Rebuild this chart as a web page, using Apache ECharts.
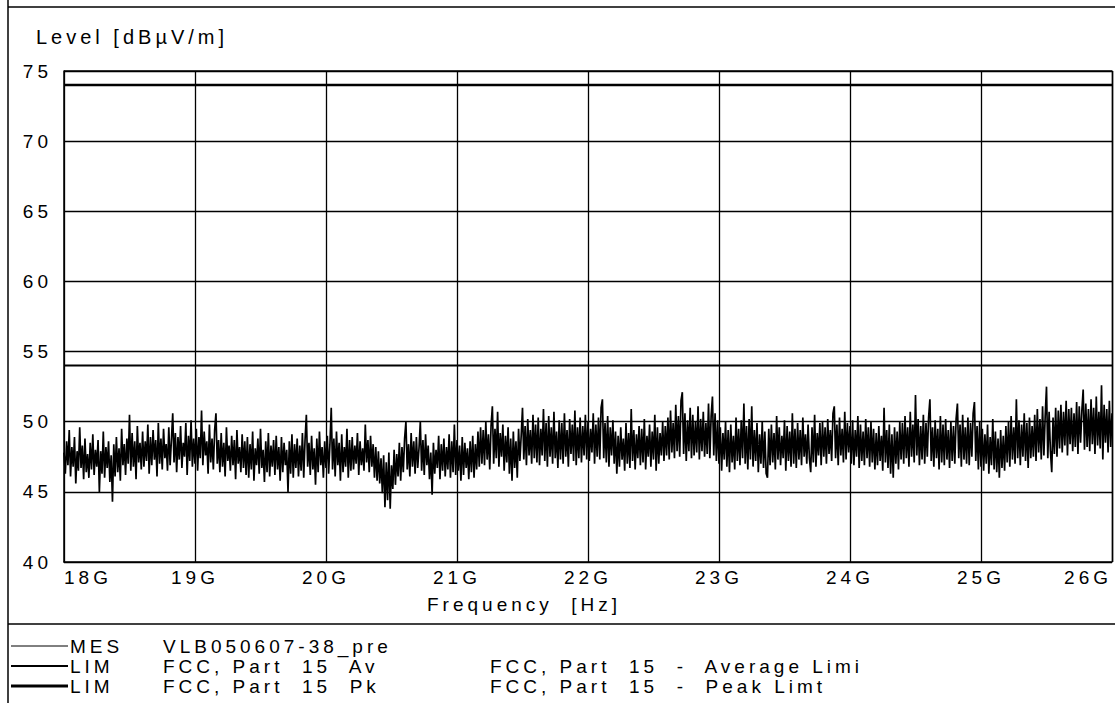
<!DOCTYPE html>
<html><head><meta charset="utf-8">
<script src="https://cdn.jsdelivr.net/npm/echarts@6/dist/echarts.min.js"></script>
<style>html,body{margin:0;padding:0;background:#fff}#c{width:1115px;height:703px}#c text{letter-spacing:4px}</style>
</head><body><div id="c"></div>
<script>
// Sweep: 18 GHz .. 26 GHz, one reading every 0.01 GHz
const freqStartGHz = 18;
const freqStepGHz = 0.01;
const mesLevels = [
47.8,46.3,48.6,46.9,49.4,46.1,48.2,46.8,48.9,45.6,47.9,46.5,49.6,46.7,48.3,45.9,48.8,46.4,47.7,46.0,
48.5,46.6,49.1,46.2,48.0,46.8,48.7,45.0,47.9,46.3,49.3,46.0,48.2,46.7,48.6,45.7,47.6,44.3,48.4,46.1,
48.9,46.4,48.1,45.8,49.5,46.9,48.4,46.2,48.8,47.0,50.5,46.5,49.2,46.8,48.6,45.9,49.7,47.1,48.5,46.6,
49.3,46.8,48.6,47.2,49.8,46.3,48.9,46.9,49.4,47.3,48.7,46.1,49.9,47.0,48.8,46.6,49.5,47.4,48.4,46.5,
49.6,46.9,48.7,50.6,47.1,49.2,46.4,48.9,47.3,49.7,46.7,48.5,47.5,49.9,46.2,49.0,47.2,50.1,46.8,48.8,
47.0,49.5,46.5,48.9,47.4,50.8,46.9,49.3,47.6,48.6,46.3,49.8,47.1,48.8,46.6,49.4,50.6,47.0,48.7,46.4,
49.2,46.8,48.5,46.1,49.6,47.2,48.3,46.5,49.0,46.9,48.7,45.9,49.4,47.0,48.2,46.4,49.1,46.7,48.6,46.2,
48.9,46.0,48.4,46.6,49.3,45.8,48.1,46.9,48.8,46.3,49.5,46.7,48.0,45.7,48.6,46.4,49.2,46.1,48.3,46.8,
48.7,46.2,49.0,46.6,48.2,45.8,48.9,46.4,48.5,46.9,48.0,45.0,48.6,46.3,49.1,46.0,48.4,46.7,48.8,46.1,
48.3,46.5,49.2,46.0,48.7,50.5,46.8,48.5,46.2,49.0,46.6,48.1,45.5,48.8,46.4,49.3,46.9,48.2,46.0,48.6,
46.7,49.0,46.3,48.4,51.0,46.6,48.8,46.1,49.3,46.9,48.5,45.8,49.1,46.4,48.2,46.8,49.5,46.0,48.7,46.5,
48.9,46.6,48.3,47.0,49.2,46.2,48.6,46.9,48.1,46.5,49.8,47.1,48.7,46.4,49.0,46.8,48.4,46.0,48.2,45.8,
47.9,45.6,47.4,44.9,47.6,43.9,47.1,44.4,47.8,43.8,46.9,45.2,48.0,45.5,47.7,46.1,48.5,45.8,48.2,46.4,
48.8,50.0,46.6,48.4,46.1,49.2,46.8,48.6,46.3,48.9,46.7,48.1,50.0,46.5,48.7,46.2,49.1,46.9,48.3,45.9,
47.8,44.8,48.5,46.3,48.0,46.7,49.0,45.9,48.4,46.5,48.8,46.1,48.2,46.6,49.1,46.0,48.6,46.4,49.8,46.2,
48.7,46.5,48.3,45.8,48.9,46.2,48.5,46.7,48.1,45.9,48.6,46.4,49.0,46.0,48.4,46.6,49.3,46.8,49.6,47.0,
49.4,46.9,50.0,47.3,49.1,46.6,49.7,51.1,47.0,49.5,47.4,50.7,46.8,49.2,47.5,49.8,46.5,49.0,47.1,49.6,
46.3,48.8,45.8,49.3,46.7,48.6,46.0,49.5,47.2,49.0,51.0,47.3,49.7,46.9,50.2,47.6,49.4,47.0,50.5,47.4,
49.8,47.1,50.3,46.9,49.5,47.6,50.9,47.2,49.9,46.8,50.4,47.5,49.6,47.0,50.7,47.4,49.3,46.7,50.1,47.3,
49.9,47.0,50.6,47.5,49.4,46.8,50.2,47.7,49.8,47.2,50.8,46.9,49.6,47.4,50.3,47.1,49.7,47.6,50.5,47.3,
50.0,47.2,49.5,47.8,50.6,47.0,49.8,47.5,50.3,47.3,51.0,51.6,47.4,49.9,47.1,50.4,46.8,49.6,47.6,50.1,
47.0,49.3,46.3,49.0,46.8,49.6,47.3,48.8,46.5,49.9,47.0,49.2,46.7,50.9,47.2,49.4,46.6,49.1,47.4,49.7,
46.9,49.5,47.1,50.2,46.6,49.0,47.5,49.8,46.8,49.3,47.3,50.5,46.5,49.6,47.0,49.2,47.6,50.0,47.2,49.7,
47.6,50.3,47.3,50.8,47.8,49.9,47.4,51.2,47.9,50.4,47.5,51.5,52.1,47.7,50.6,47.2,50.1,47.9,51.0,47.4,
50.5,47.6,50.0,47.8,51.1,47.3,50.2,47.9,50.7,47.5,49.9,47.7,51.3,47.4,50.4,51.8,47.6,50.6,47.2,50.1,
47.0,49.6,46.5,49.2,47.3,50.0,46.8,49.4,46.4,49.8,47.1,49.0,46.6,50.3,47.2,49.5,46.9,50.1,47.4,51.3,
47.0,49.7,46.6,50.2,47.3,51.1,46.8,49.4,47.2,49.9,46.4,49.1,47.0,50.0,46.7,49.3,46.3,46.0,49.5,46.9,
49.8,47.1,49.2,46.6,50.4,47.3,49.6,46.9,49.0,47.4,50.1,46.5,49.7,47.2,49.3,46.8,50.6,47.0,49.5,46.7,
49.9,47.3,49.4,46.9,50.3,47.5,49.1,47.0,49.8,47.4,46.4,49.6,47.1,50.5,46.8,49.2,47.6,49.9,46.9,50.0,
47.5,49.6,47.0,50.2,47.7,49.4,47.2,50.6,51.1,47.4,49.8,46.9,50.3,47.6,49.5,47.1,50.7,47.3,49.9,47.8,
49.7,47.0,50.1,46.9,49.4,47.5,50.4,46.7,49.8,47.2,49.3,46.9,50.2,47.4,49.6,46.8,50.0,47.1,49.5,46.6,
49.2,46.9,49.7,47.2,49.0,46.5,51.0,47.1,49.4,46.7,49.8,46.3,49.1,46.0,49.6,47.0,49.3,46.6,50.0,47.3,
49.9,47.0,50.4,47.4,49.6,46.8,50.7,47.5,49.8,47.1,51.9,47.6,50.2,46.9,49.7,47.3,50.5,47.0,49.9,47.5,
50.3,51.6,47.2,49.6,46.8,50.1,47.4,49.5,46.6,50.4,47.1,49.8,46.9,50.2,47.3,49.4,46.7,50.0,47.2,49.7,
47.0,50.2,51.3,47.4,49.8,46.8,50.5,47.3,49.6,47.0,50.3,46.9,49.9,47.5,50.6,51.4,47.2,49.7,46.6,50.0,
46.8,49.5,46.5,49.1,47.0,49.8,46.3,48.9,46.9,50.2,46.6,49.3,46.4,48.8,46.0,49.4,46.7,49.0,46.5,49.7,
47.1,50.0,46.8,50.4,47.3,49.6,47.0,51.6,47.4,50.1,46.9,49.8,47.5,50.6,47.2,49.9,46.7,50.3,47.4,49.7,
47.5,50.5,47.2,50.9,47.8,50.2,47.3,51.1,47.6,50.4,52.5,47.4,50.7,47.9,46.4,50.3,47.7,51.0,47.5,50.8,
48.1,51.2,47.8,50.7,48.3,51.5,47.6,50.9,48.4,51.0,47.9,50.6,48.2,51.4,47.7,51.1,48.5,50.8,52.3,48.0,
51.3,48.2,50.9,47.9,51.6,48.4,51.0,47.7,51.8,48.3,50.7,48.1,52.6,47.3,51.2,48.5,50.9,47.8,51.5,48.2,
50.6
];
const averageLimit = 54;   // FCC Part 15 Av
const peakLimit = 74;      // FCC Part 15 Pk
const freqRange = [18, 26];
const xTickLabels = ['18G','19G','20G','21G','22G','23G','24G','25G','26G'];
const yTicks = [40, 45, 50, 55, 60, 65, 70, 75];

const FONT = 'Liberation Sans';
const mesData = mesLevels.map((v, i) => [+(freqStartGHz + i * freqStepGHz).toFixed(2), v]);

const chart = echarts.init(document.getElementById('c'), null, {renderer: 'svg'});
const txt = (x, y, s, size) => ({type: 'text', x, y, style: {text: s, fill: '#000', font: (size || 19) + 'px ' + FONT, textVerticalAlign: 'middle'}});
const ln = (x1, y1, x2, y2, w) => ({type: 'line', shape: {x1, y1, x2, y2}, style: {stroke: '#000', lineWidth: w}});

chart.setOption({
  animation: false,
  backgroundColor: '#fff',
  grid: {left: 64, right: 3, top: 71, bottom: 141, containLabel: false},
  xAxis: {
    type: 'value', min: freqRange[0], max: freqRange[1], interval: 1,
    axisLine: {show: true, lineStyle: {color: '#000', width: 1.5}},
    axisTick: {show: false},
    axisLabel: {color: '#000', fontSize: 19, fontFamily: FONT, margin: 6,
      alignMinLabel: 'left', alignMaxLabel: 'right',
      formatter: v => xTickLabels[Math.round(v - freqRange[0])]},
    splitLine: {show: true, lineStyle: {color: '#000', width: 1.3}}
  },
  yAxis: {
    type: 'value', min: yTicks[0], max: yTicks[yTicks.length - 1], interval: 5,
    axisLine: {show: true, lineStyle: {color: '#000', width: 1.5}},
    axisTick: {show: false},
    axisLabel: {color: '#000', fontSize: 19, fontFamily: FONT, align: 'right', margin: 12},
    splitLine: {show: true, lineStyle: {color: '#000', width: 1.3}}
  },
  graphic: [
    ln(8, 0, 8, 703, 1.5),
    ln(8, 7, 1115, 7, 1.5),
    ln(8, 624, 1115, 624, 1.5),
    ln(1112.5, 71, 1112.5, 562, 1.5),
    ln(64, 71, 1112.5, 71, 1.5),
    txt(36, 37, 'Level [dBµV/m]', 20),
    txt(427, 604, 'Frequency  [Hz]', 19),
    ln(11, 646, 68, 646, 1),
    ln(11, 666, 68, 666, 2),
    ln(11, 686, 68, 686, 3),
    txt(70, 646, 'MES'), txt(163, 646, 'VLB050607-38_pre'),
    txt(70, 666, 'LIM'), txt(163, 666, 'FCC, Part  15  Av'),
    txt(70, 686, 'LIM'), txt(163, 686, 'FCC, Part  15  Pk'),
    txt(490, 666, 'FCC, Part  15  -  Average Limi'),
    txt(490, 686, 'FCC, Part  15  -  Peak Limt')
  ],
  series: [
    {type: 'line', name: 'MES', data: mesData, showSymbol: false, symbol: 'none', sampling: false,
     lineStyle: {color: '#000', width: 1.7}, z: 3, silent: true},
    {type: 'line', name: 'LIM Av', data: [[freqRange[0], averageLimit], [freqRange[1], averageLimit]],
     showSymbol: false, symbol: 'none', lineStyle: {color: '#000', width: 2}, z: 4, silent: true},
    {type: 'line', name: 'LIM Pk', data: [[freqRange[0], peakLimit], [freqRange[1], peakLimit]],
     showSymbol: false, symbol: 'none', lineStyle: {color: '#000', width: 2.5}, z: 4, silent: true}
  ]
});
</script></body></html>
